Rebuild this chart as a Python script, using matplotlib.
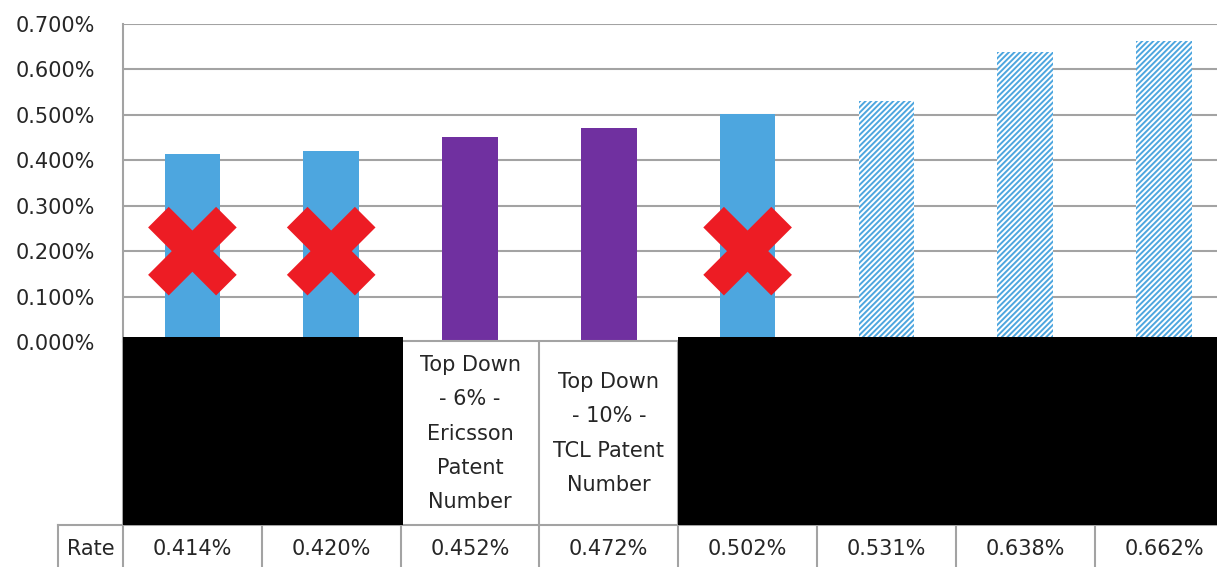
import matplotlib
matplotlib.use('Agg')
import matplotlib.pyplot as plt
from matplotlib.patches import Rectangle

# ---------------- data ----------------
rates = [0.414, 0.420, 0.452, 0.472, 0.502, 0.531, 0.638, 0.662]   # percent
categories = ['', '',
              'Top Down\n- 6% -\nEricsson\nPatent\nNumber',
              'Top Down\n- 10% -\nTCL Patent\nNumber',
              '', '', '', '']
redacted = [True, True, False, False, True, True, True, True]
crossed = [True, True, False, False, True, False, False, False]
bar_kind = ['blue', 'blue', 'purple', 'purple', 'blue', 'hatch', 'hatch', 'hatch']
yticks = [0.0, 0.1, 0.2, 0.3, 0.4, 0.5, 0.6, 0.7]
row_label = 'Rate'

# ---------------- style ----------------
BLUE = '#4DA6DF'
PURPLE = '#7030A0'
RED = '#ED1C24'
GRID = '#A3A3A3'
TXT = '#262626'
FS = 15
plt.rcParams['font.family'] = ['DejaVu Sans']
plt.rcParams['hatch.linewidth'] = 1.4

W, H = 1217, 567
fig = plt.figure(figsize=(W / 100, H / 100), dpi=100)
fig.patch.set_facecolor('white')

col_w = 138.8
n = len(rates)
ax_l = 123
ax_r = ax_l + n * col_w
y_top, y_zero = 24, 342

ax = fig.add_axes([ax_l / W, 1 - y_zero / H, (ax_r - ax_l) / W, (y_zero - y_top) / H])
ax.set_xlim(-0.5, n - 0.5)
ax.set_ylim(0, 0.7)
for s in ['top', 'right', 'bottom']:
    ax.spines[s].set_visible(False)
ax.spines['left'].set_color(GRID)
ax.spines['left'].set_linewidth(1.5)
ax.set_yticks(yticks)
ax.set_yticklabels([f'{v:.3f}%' for v in yticks])
ax.tick_params(axis='y', length=0, pad=20, labelsize=FS, labelcolor=TXT)
ax.set_xticks([])
ax.yaxis.grid(True, color=GRID, linewidth=1.5)
ax.set_axisbelow(True)

for i, (r, k) in enumerate(zip(rates, bar_kind)):
    if k == 'hatch':
        ax.bar(i, r, width=0.4, facecolor='white', edgecolor=BLUE, hatch='//////',
               linewidth=0, zorder=2)
    else:
        ax.bar(i, r, width=0.4, color=BLUE if k == 'blue' else PURPLE, linewidth=0, zorder=2)

# red crosses
px_per_x = col_w
px_per_y = (y_zero - y_top) / 0.7
dx = 34 / px_per_x
dy = 34 / px_per_y
yc = 0.2
for i, c in enumerate(crossed):
    if c:
        ax.plot([i - dx, i + dx], [yc - dy, yc + dy], color=RED, lw=21,
                solid_capstyle='butt', zorder=4)
        ax.plot([i - dx, i + dx], [yc + dy, yc - dy], color=RED, lw=21,
                solid_capstyle='butt', zorder=4)

# ---------------- data table ----------------
tax = fig.add_axes([ax_l / W, 0, (ax_r - ax_l) / W, (H - y_zero) / H])
tax.set_xlim(-0.5, n - 0.5)
tax.set_ylim(H - y_zero, 0)
tax.axis('off')
tax.patch.set_alpha(0)

cat_h = 183
rate_y = 207
x_rate_left = -0.5 - (ax_l - 58) / col_w

tax.plot([-0.5, n - 0.5], [-1.5, -1.5], color=GRID, lw=1.5, clip_on=False)
tax.plot([x_rate_left, n - 0.5], [cat_h, cat_h], color=GRID, lw=1.5, clip_on=False)
for k in range(n + 1):
    tax.plot([k - 0.5, k - 0.5], [0, H - y_zero], color=GRID, lw=1.5, clip_on=False)
tax.plot([x_rate_left, x_rate_left], [cat_h, H - y_zero], color=GRID, lw=1.5, clip_on=False)

for i, red in enumerate(redacted):
    if red:
        tax.add_patch(Rectangle((i - 0.5, -5), 1.02, cat_h + 5, facecolor='black',
                                edgecolor='none', clip_on=False, zorder=10))

for i, lab in enumerate(categories):
    if lab and not redacted[i]:
        tax.text(i, cat_h / 2, lab, ha='center', va='center', fontsize=FS,
                 color=TXT, linespacing=1.88)

for i, r in enumerate(rates):
    tax.text(i, rate_y, f'{r:.3f}%', ha='center', va='center', fontsize=FS, color=TXT)
tax.text((x_rate_left - 0.5) / 2, rate_y, row_label, ha='center', va='center',
         fontsize=FS, color=TXT, clip_on=False)

fig.savefig('out.png', dpi=100)
